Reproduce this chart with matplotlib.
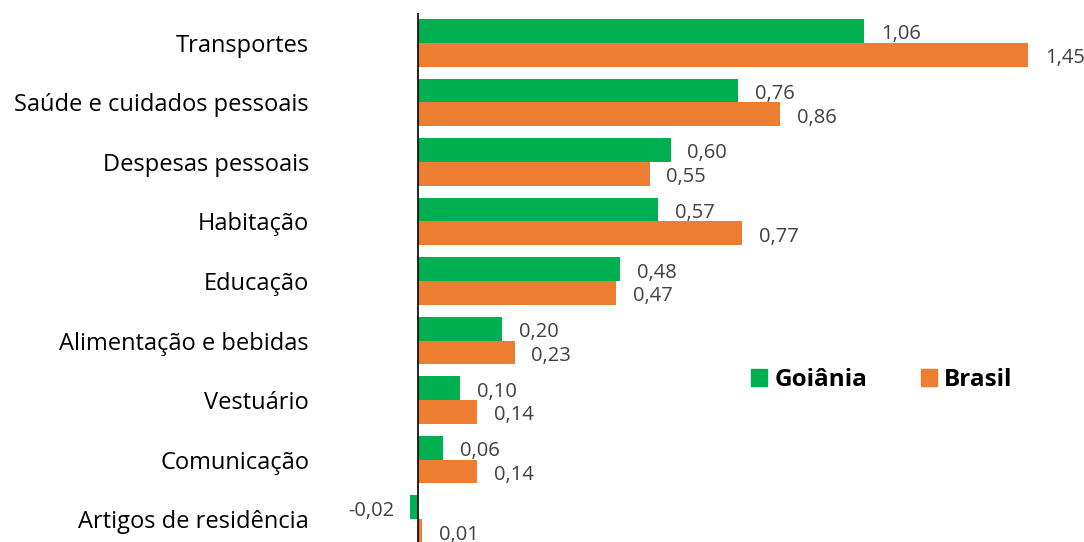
import matplotlib
matplotlib.use("Agg")
import matplotlib.pyplot as plt
from matplotlib.patches import Patch

categories = ["Transportes", "Saúde e cuidados pessoais", "Despesas pessoais", "Habitação",
              "Educação", "Alimentação e bebidas", "Vestuário", "Comunicação", "Artigos de residência"]
goiania = [1.06, 0.76, 0.60, 0.57, 0.48, 0.20, 0.10, 0.06, -0.02]
brasil = [1.45, 0.86, 0.55, 0.77, 0.47, 0.23, 0.14, 0.14, 0.01]
series_names = ["Goiânia", "Brasil"]
colors = ["#00B050", "#ED7D31"]

plt.rcParams['font.family'] = ['Open Sans', 'DejaVu Sans']

W, H = 1084, 542
fig = plt.figure(figsize=(W / 100, H / 100), dpi=100)
x0, x1 = -0.1, 1.55
ppu = 421.0
left_px = 418 - (0 - x0) * ppu
right_px = 418 + x1 * ppu
top_px, bot_px = 13, 549
ax = fig.add_axes([left_px / W, (H - bot_px) / H, (right_px - left_px) / W, (bot_px - top_px) / H])
ax.set_xlim(x0, x1)
ax.set_ylim(len(categories) - 0.5, -0.5)

bh = 0.4
ys = list(range(len(categories)))
for vals, off, c in [(goiania, -bh / 2, colors[0]), (brasil, bh / 2, colors[1])]:
    pos = [y + off for y in ys]
    ax.barh(pos, vals, height=bh, color=c)
    for p, v in zip(pos, vals):
        txt = f"{v:.2f}".replace(".", ",")
        if v >= 0:
            ax.annotate(txt, (v, p), xytext=(12, -2.5), textcoords="offset points",
                        ha="left", va="center", fontsize=14.5, color="#404040")
        else:
            ax.annotate(txt, (v, p), xytext=(-11, -2.5), textcoords="offset points",
                        ha="right", va="center", fontsize=14.5, color="#404040")

ax.axvline(0, color="black", linewidth=1.2)
for s in ax.spines.values():
    s.set_visible(False)
ax.set_xticks([])
ax.set_yticks(ys)
ax.set_yticklabels(categories, fontsize=17, color="#000000")
ax.tick_params(axis="y", length=0, pad=(left_px - 309) * 0.72)

handles = [Patch(color=colors[0]), Patch(color=colors[1])]
leg = fig.legend(handles, series_names, loc="center", bbox_to_anchor=(882 / W, (H - 380) / H),
                 ncol=2, frameon=False, handlelength=0.65, handleheight=0.65, handletextpad=0.3,
                 columnspacing=2.2, prop={"weight": "bold", "size": 17.5})

fig.savefig("out.png", dpi=100)
